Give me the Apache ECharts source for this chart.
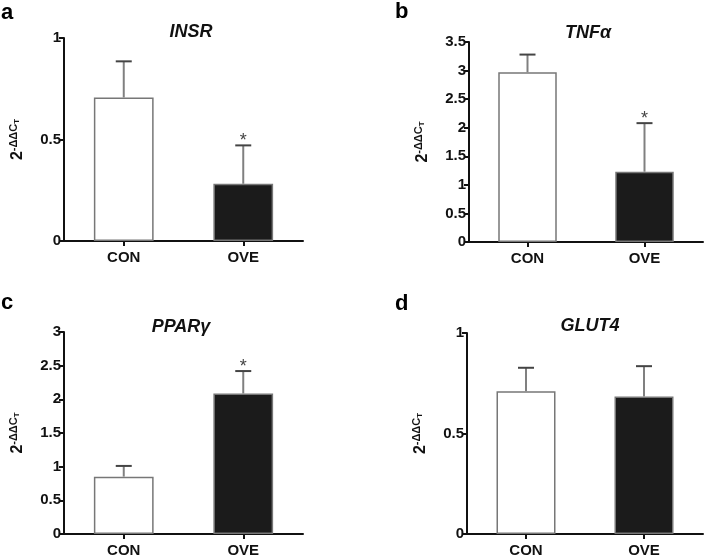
<!DOCTYPE html>
<html>
<head>
<meta charset="utf-8">
<script src="https://cdn.jsdelivr.net/npm/echarts@6/dist/echarts.min.js"></script>
<style>
html,body{margin:0;padding:0;background:#fff;}
#main{width:709px;height:558px;}
</style>
</head>
<body>
<div id="main"></div>
<script>
// ---- data ----
var categories = ['CON', 'OVE'];
var panelLetters = ['a', 'b', 'c', 'd'];
var geneNames = ['INSR', 'TNFα', 'PPARγ', 'GLUT4'];

var insrMean = [0.707, 0.282];
var insrSD   = [0.178, 0.189];
var insrSig  = ['', '*'];

var tnfMean = [2.97, 1.23];
var tnfSD   = [0.31, 0.85];
var tnfSig  = ['', '*'];

var pparMean = [0.852, 2.087];
var pparSD   = [0.159, 0.333];
var pparSig  = ['', '*'];

var glutMean = [0.710, 0.684];
var glutSD   = [0.117, 0.151];
var glutSig  = ['', ''];

var yMax = [1, 3.5, 3, 1];
var yInterval = [0.5, 0.5, 0.5, 0.5];

var means = [insrMean, tnfMean, pparMean, glutMean];
var sds = [insrSD, tnfSD, pparSD, glutSD];
var sigs = [insrSig, tnfSig, pparSig, glutSig];

// ---- layout ----
var FONT = '"Liberation Sans", Arial, Helvetica, sans-serif';
var grids = [
  {left: 64, top: 38, width: 239, height: 203},
  {left: 469, top: 42, width: 234, height: 200},
  {left: 64, top: 332, width: 239, height: 202},
  {left: 467, top: 333, width: 236, height: 202}
];
var titlePos = [[186, 27], [583, 28], [176, 322], [585, 321]];
var letterPos = [[1, 2], [395, 1], [1, 292], [395, 293]];

var option = {
  animation: false,
  backgroundColor: '#fff',
  grid: [],
  xAxis: [],
  yAxis: [],
  series: [],
  title: [],
  graphic: []
};

function errDataText(params) {
  var panel = Math.floor(params.seriesIndex / 2);
  return sigs[panel][params.dataIndex];
}

for (var i = 0; i < 4; i++) {
  option.grid.push({left: grids[i].left, top: grids[i].top, width: grids[i].width, height: grids[i].height, containLabel: false});
  option.xAxis.push({
    type: 'category', gridIndex: i, data: categories,
    axisLine: {lineStyle: {color: '#111', width: 2}},
    axisTick: {show: true, alignWithLabel: true, length: 5, lineStyle: {color: '#111', width: 2}},
    axisLabel: {color: '#111', fontFamily: FONT, fontWeight: 'bold', fontSize: 15, margin: 9},
    splitLine: {show: false}
  });
  option.yAxis.push({
    type: 'value', gridIndex: i, min: 0, max: yMax[i], interval: yInterval[i],
    name: '{b|2}{s|-ΔΔC}{t|T}',
    nameLocation: 'middle', nameRotate: 90, nameGap: 38,
    nameTextStyle: {
      color: '#111', fontFamily: FONT,
      rich: {
        b: {fontSize: 16, fontWeight: 'bold', fontFamily: FONT, color: '#111', verticalAlign: 'bottom', lineHeight: 18},
        s: {fontSize: 11, fontWeight: 'bold', fontFamily: FONT, color: '#111', verticalAlign: 'top', lineHeight: 18},
        t: {fontSize: 8, fontWeight: 'bold', fontFamily: FONT, color: '#111', verticalAlign: 'middle', lineHeight: 18}
      }
    },
    axisLine: {show: true, lineStyle: {color: '#111', width: 2}},
    axisTick: {show: true, length: 5, lineStyle: {color: '#111', width: 2}},
    axisLabel: {color: '#111', fontFamily: FONT, fontWeight: 'bold', fontSize: 15, margin: 3},
    splitLine: {show: false}
  });

  var barData = means[i].map(function (v, k) {
    return {
      value: v,
      itemStyle: k === 0
        ? {color: '#ffffff', borderColor: '#777', borderWidth: 1.5}
        : {color: '#1b1b1b', borderColor: '#777', borderWidth: 1.5}
    };
  });
  option.series.push({
    type: 'bar', xAxisIndex: i, yAxisIndex: i, data: barData,
    barWidth: '50%', silent: true, z: 2
  });

  var errData = means[i].map(function (v, k) { return [k, v, sds[i][k]]; });
  option.series.push({
    type: 'custom', xAxisIndex: i, yAxisIndex: i, data: errData, z: 3, silent: true,
    renderItem: function (params, api) {
      var x = api.value(0), m = api.value(1), sd = api.value(2);
      var sig = errDataText(params);
      var p0 = api.coord([x, m]);
      var p1 = api.coord([x, m + sd]);
      var cap = 8;
      var children = [
        {type: 'line', shape: {x1: p0[0], y1: p0[1], x2: p1[0], y2: p1[1]}, style: {stroke: '#808080', lineWidth: 2}},
        {type: 'line', shape: {x1: p1[0] - cap, y1: p1[1], x2: p1[0] + cap, y2: p1[1]}, style: {stroke: '#444', lineWidth: 2}}
      ];
      if (sig) {
        children.push({type: 'text', style: {text: sig, x: p1[0], y: p1[1] + 5, textAlign: 'center', textVerticalAlign: 'bottom', fill: '#444', font: '18px ' + FONT}});
      }
      return {type: 'group', children: children};
    }
  });

  option.title.push({
    text: geneNames[i], left: titlePos[i][0], top: titlePos[i][1],
    textAlign: 'center', textVerticalAlign: 'middle',
    textStyle: {fontFamily: FONT, fontStyle: 'italic', fontWeight: 'bold', fontSize: 18, color: '#111'}
  });
  option.graphic.push({
    type: 'text', left: letterPos[i][0], top: letterPos[i][1],
    style: {text: panelLetters[i], font: 'bold 22px ' + FONT, fill: '#000'}
  });
}

var chart = echarts.init(document.getElementById('main'), null, {renderer: 'canvas'});
chart.setOption(option);
</script>
</body>
</html>
